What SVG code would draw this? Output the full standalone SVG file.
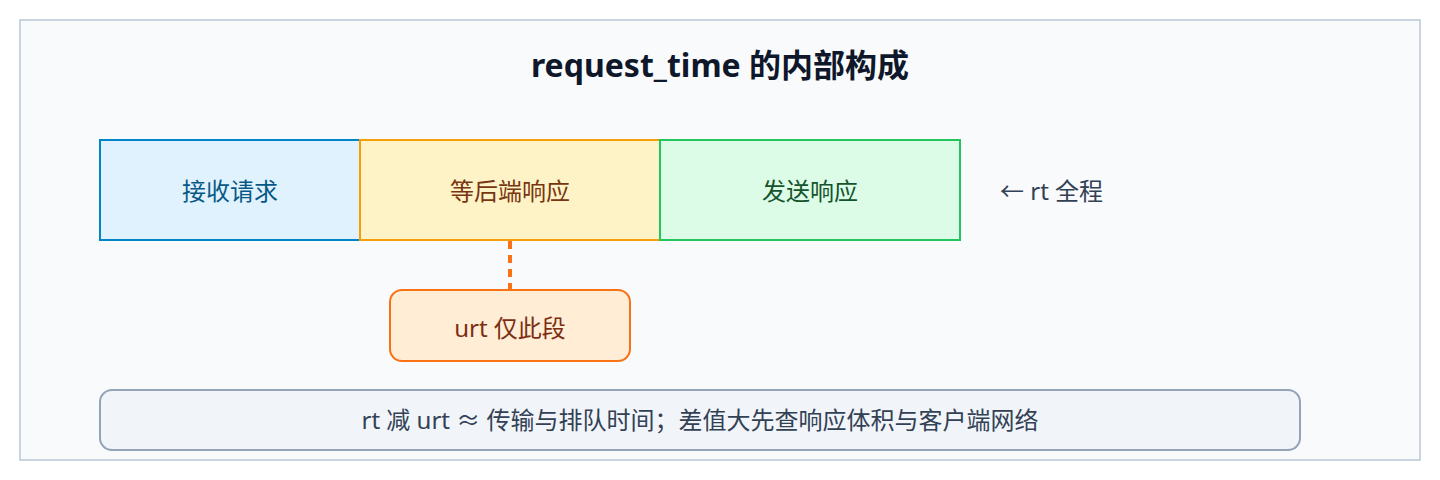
<svg xmlns="http://www.w3.org/2000/svg" width="1440" height="480" viewBox="0 0 1440 480">
<style>
text{font-family:"Noto Sans","Noto Sans CJK SC",sans-serif;}
.t{font-size:32px;font-weight:700;fill:#0f172a;}
.lbl{font-size:24px;}
.seg{stroke-width:2;}
</style>
<rect x="0" y="0" width="1440" height="480" fill="#ffffff"/>
<rect x="20" y="20" width="1400" height="440" fill="#f8fafc" stroke="#cbd5e1" stroke-width="2"/>
<text class="t" x="720" y="77" text-anchor="middle">request_time 的内部构成</text>
<g id="connectors">
<line x1="510" y1="241" x2="510" y2="290" stroke="#f97316" stroke-width="4" stroke-dasharray="8 6"/>
</g>
<g id="recv">
<rect class="seg" x="100" y="140" width="260" height="100" fill="#e0f2fe" stroke="#0284c7"/>
<text class="lbl" x="230" y="200" text-anchor="middle" fill="#075985">接收请求</text>
</g>
<g id="wait">
<rect class="seg" x="360" y="140" width="300" height="100" fill="#fef3c7" stroke="#f59e0b"/>
<text class="lbl" x="510" y="200" text-anchor="middle" fill="#78350f">等后端响应</text>
</g>
<g id="send">
<rect class="seg" x="660" y="140" width="300" height="100" fill="#dcfce7" stroke="#22c55e"/>
<text class="lbl" x="810" y="200" text-anchor="middle" fill="#14532d">发送响应</text>
</g>
<g id="rt">
<text class="lbl" x="1000" y="200" fill="#334155">← rt 全程</text>
</g>
<g id="urt">
<rect x="390" y="290" width="240" height="71" rx="12" fill="#ffedd5" stroke="#f97316" stroke-width="2"/>
<text class="lbl" x="510" y="337" text-anchor="middle" fill="#7c2d12">urt 仅此段</text>
</g>
<g id="note">
<rect x="100" y="390" width="1200" height="60" rx="12" fill="#f1f5f9" stroke="#94a3b8" stroke-width="2"/>
<text class="lbl" x="700" y="429" text-anchor="middle" fill="#334155">rt 减 urt ≈ 传输与排队时间；差值大先查响应体积与客户端网络</text>
</g>
</svg>
